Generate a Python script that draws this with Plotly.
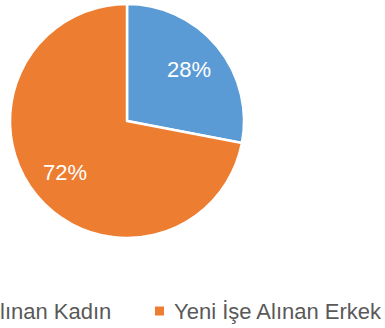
import math
import plotly.graph_objects as go

# Share of new hires by gender
labels = ["Yeni İşe Alınan Kadın", "Yeni İşe Alınan Erkek"]
values = [28, 72]
colors = ["#5B9BD5", "#ED7D31"]

W, H = 385, 328
FONT = "Liberation Sans"

# pie geometry in px (centre and radius)
cx, cy, r = 127, 121, 117

fig = go.Figure(
    go.Pie(
        labels=labels,
        values=values,
        sort=False,
        direction="clockwise",
        rotation=0,
        marker=dict(colors=colors, line=dict(color="white", width=2.5)),
        textinfo="none",
        domain=dict(x=[(cx - r) / W, (cx + r) / W],
                    y=[(H - cy - r) / H, (H - cy + r) / H]),
        showlegend=False,
        hoverinfo="label+percent",
    )
)

annotations, shapes = [], []

# percentage labels placed at each slice's mid-angle
total = sum(values)
start = 0.0
for v in values:
    mid = (start + v / 2) / total * 2 * math.pi
    start += v
    lx = cx + 0.69 * r * math.sin(mid)
    ly = cy - 0.69 * r * math.cos(mid)
    annotations.append(dict(
        text=f"{round(100 * v / total)}%", xref="paper", yref="paper",
        x=lx / W, y=(H - ly) / H, xanchor="center", yanchor="middle",
        showarrow=False, font=dict(family=FONT, size=22, color="white"),
    ))

# Horizontal legend row under the pie (wider than the canvas, so it runs off the left edge)
legend_y = 311          # px from top, vertical centre of the row
sq = 9                  # marker square size, px
entries = [
    # (marker left px, text left px)
    (-116, -99),
    (155, 172),
]
for (mx, tx), lab, col in zip(entries, labels, colors):
    shapes.append(dict(
        type="rect", xref="paper", yref="paper",
        x0=mx / W, x1=(mx + sq) / W,
        y0=(H - legend_y - sq / 2) / H, y1=(H - legend_y + sq / 2) / H,
        fillcolor=col, line=dict(width=0),
    ))
    annotations.append(dict(
        text=lab, xref="paper", yref="paper",
        x=tx / W, y=(H - legend_y) / H,
        xanchor="left", yanchor="middle", showarrow=False,
        font=dict(family=FONT, size=22, color="#595959"),
    ))

fig.update_layout(
    width=W, height=H,
    margin=dict(l=0, r=0, t=0, b=0),
    paper_bgcolor="white",
    plot_bgcolor="white",
    shapes=shapes,
    annotations=annotations,
)

fig.write_html("out.html")
